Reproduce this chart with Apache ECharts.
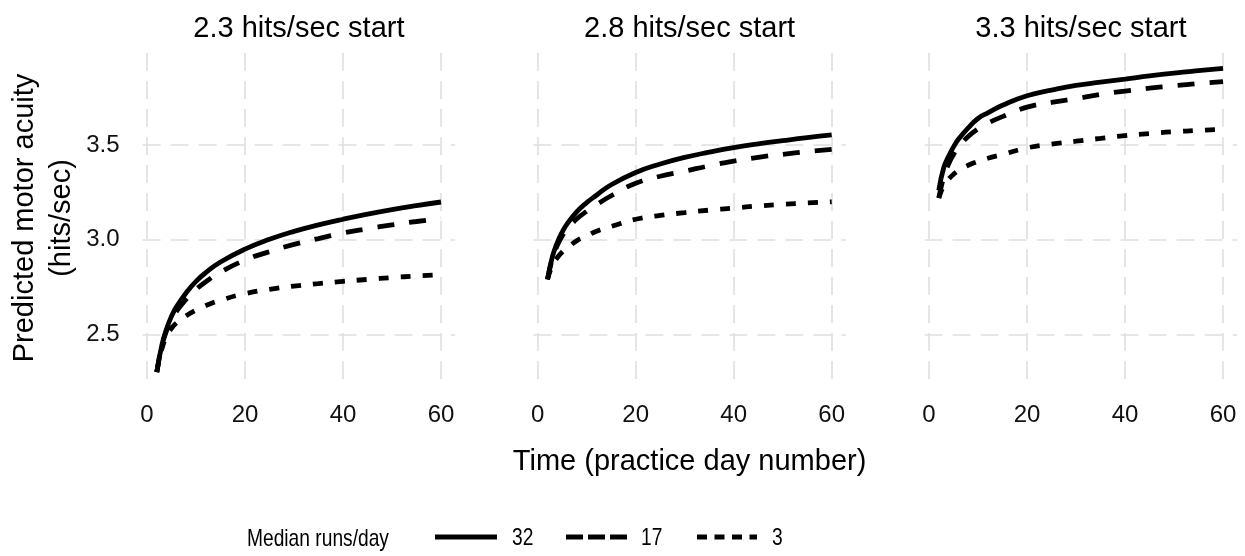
<!DOCTYPE html>
<html>
<head>
<meta charset="utf-8">
<script src="https://cdn.jsdelivr.net/npm/echarts@6/dist/echarts.min.js"></script>
<style>
  html, body { margin: 0; padding: 0; background: #ffffff; }
  #chart { width: 1245px; height: 556px; }
</style>
</head>
<body>
<div id="chart"></div>
<script>
// Practice days at which the predicted curves are sampled
const days = [2, 3, 4, 5, 6, 8, 10, 12, 15, 20, 25, 30, 35, 40, 45, 50, 55, 60];

// Panel titles (starting acuity) and legend levels (median runs per day)
const panelTitles = ['2.3 hits/sec start', '2.8 hits/sec start', '3.3 hits/sec start'];
const runsLevels = ['32', '17', '3'];
const xTicks = [0, 20, 40, 60];
const yTicks = [2.5, 3.0, 3.5];

// Predicted motor acuity (hits/sec) — 2.3 hits/sec start
const start23_runs32 = [2.30, 2.44, 2.53, 2.595, 2.645, 2.72, 2.78, 2.826, 2.882, 2.950, 3.002, 3.044, 3.078, 3.108, 3.135, 3.159, 3.180, 3.199];
const start23_runs17 = [2.30, 2.435, 2.52, 2.578, 2.62, 2.686, 2.737, 2.778, 2.828, 2.892, 2.937, 2.975, 3.006, 3.035, 3.058, 3.078, 3.096, 3.112];
const start23_runs3  = [2.30, 2.42, 2.49, 2.532, 2.56, 2.598, 2.628, 2.652, 2.680, 2.715, 2.738, 2.755, 2.768, 2.780, 2.790, 2.800, 2.808, 2.815];

// 2.8 hits/sec start
const start28_runs32 = [2.79, 2.91, 2.985, 3.04, 3.083, 3.148, 3.196, 3.235, 3.29, 3.355, 3.40, 3.435, 3.462, 3.486, 3.506, 3.523, 3.539, 3.553];
const start28_runs17 = [2.79, 2.90, 2.97, 3.02, 3.055, 3.11, 3.15, 3.185, 3.232, 3.298, 3.335, 3.362, 3.39, 3.415, 3.435, 3.451, 3.465, 3.477];
const start28_runs3  = [2.79, 2.865, 2.905, 2.935, 2.955, 2.995, 3.02, 3.045, 3.07, 3.108, 3.128, 3.143, 3.156, 3.167, 3.178, 3.187, 3.194, 3.20];

// 3.3 hits/sec start
const start33_runs32 = [3.26, 3.38, 3.44, 3.49, 3.53, 3.59, 3.64, 3.67, 3.71, 3.76, 3.79, 3.815, 3.832, 3.848, 3.865, 3.88, 3.893, 3.905];
const start33_runs17 = [3.22, 3.33, 3.40, 3.45, 3.49, 3.545, 3.585, 3.615, 3.65, 3.70, 3.725, 3.745, 3.767, 3.785, 3.80, 3.813, 3.825, 3.835];
const start33_runs3  = [3.22, 3.285, 3.32, 3.345, 3.365, 3.393, 3.413, 3.43, 3.45, 3.485, 3.505, 3.52, 3.535, 3.55, 3.56, 3.57, 3.577, 3.583];

const panelSeries = [
  [start23_runs32, start23_runs17, start23_runs3],
  [start28_runs32, start28_runs17, start28_runs3],
  [start33_runs32, start33_runs17, start33_runs3]
];

// Styling
const FONT = 'Liberation Sans, Arial, Helvetica, sans-serif';
const LINE_W = 4.8;
const lineDashes = ['solid', [17, 15], [10, 12]];
const gridColor = '#dcdfe3';

// Panel geometry
const panelLeft = [142.6, 533.3, 924.6];
const panelWidth = 312.6;
const panelTop = 53;
const panelHeight = 330;

const grids = [], xAxes = [], yAxes = [], series = [];
panelLeft.forEach((left, i) => {
  grids.push({ left: left, top: panelTop, width: panelWidth, height: panelHeight });
  xAxes.push({
    gridIndex: i, type: 'value', min: -0.9, max: 62.9,
    axisLine: { show: false },
    axisTick: { show: false, customValues: xTicks },
    axisLabel: { customValues: xTicks, fontFamily: FONT, fontSize: 24, color: '#111', margin: 20 },
    splitLine: { show: true, lineStyle: { color: gridColor, width: 1.6, type: [18, 10] } },
    name: i === 1 ? 'Time (practice day number)' : '',
    nameLocation: 'middle', nameGap: 64,
    nameTextStyle: { fontFamily: FONT, fontSize: 29, color: '#000' }
  });
  yAxes.push({
    gridIndex: i, type: 'value', min: 2.243, max: 3.986,
    axisLine: { show: false },
    axisTick: { show: false, customValues: yTicks },
    axisLabel: {
      show: i === 0, customValues: yTicks, fontFamily: FONT, fontSize: 24, color: '#111', margin: 23,
      formatter: v => Number(v).toFixed(1)
    },
    splitLine: { show: true, lineStyle: { color: gridColor, width: 1.6, type: [18, 10] } },
    name: i === 0 ? 'Predicted motor acuity\n(hits/sec)' : '',
    nameLocation: 'middle', nameGap: 62,
    nameTextStyle: { fontFamily: FONT, fontSize: 29, color: '#000', lineHeight: 37 }
  });
  panelSeries[i].forEach((vals, k) => {
    series.push({
      name: runsLevels[k],
      type: 'line',
      xAxisIndex: i, yAxisIndex: i,
      data: days.map((d, j) => [d, vals[j]]),
      showSymbol: false,
      smooth: true,
      z: 3 - k,
      lineStyle: { color: '#000', width: LINE_W, type: lineDashes[k], cap: 'butt' },
      emphasis: { disabled: true }
    });
  });
});

// Panel strip titles
const graphics = panelLeft.map((left, i) => ({
  type: 'text', x: left + panelWidth / 2, y: 29,
  style: { text: panelTitles[i], font: '29px ' + FONT, fill: '#000', textAlign: 'center', textVerticalAlign: 'middle' }
}));

// Legend along the bottom
const legendY = 537;
const legendItems = [
  { x1: 435, x2: 497, label: 512 },
  { x1: 566, x2: 627, label: 641 },
  { x1: 697, x2: 757, label: 772 }
];
graphics.push({
  type: 'text', x: 247, y: legendY + 2, scaleX: 0.8,
  style: { text: 'Median runs/day', font: '24px ' + FONT, fill: '#000', textAlign: 'left', textVerticalAlign: 'middle' }
});
const legendDash = [null, [17, 5], [10, 7.5]];
legendItems.forEach((it, k) => {
  graphics.push({
    type: 'line',
    shape: { x1: it.x1, y1: legendY, x2: it.x2, y2: legendY },
    style: { stroke: '#000', lineWidth: LINE_W, lineDash: legendDash[k], lineCap: 'butt' }
  });
  graphics.push({
    type: 'text', x: it.label, y: legendY + 1, scaleX: 0.8,
    style: { text: runsLevels[k], font: '24px ' + FONT, fill: '#000', textAlign: 'left', textVerticalAlign: 'middle' }
  });
});

const chart = echarts.init(document.getElementById('chart'), null, { renderer: 'canvas' });
chart.setOption({
  animation: false,
  backgroundColor: '#ffffff',
  grid: grids,
  xAxis: xAxes,
  yAxis: yAxes,
  series: series,
  graphic: graphics
});
</script>
</body>
</html>
